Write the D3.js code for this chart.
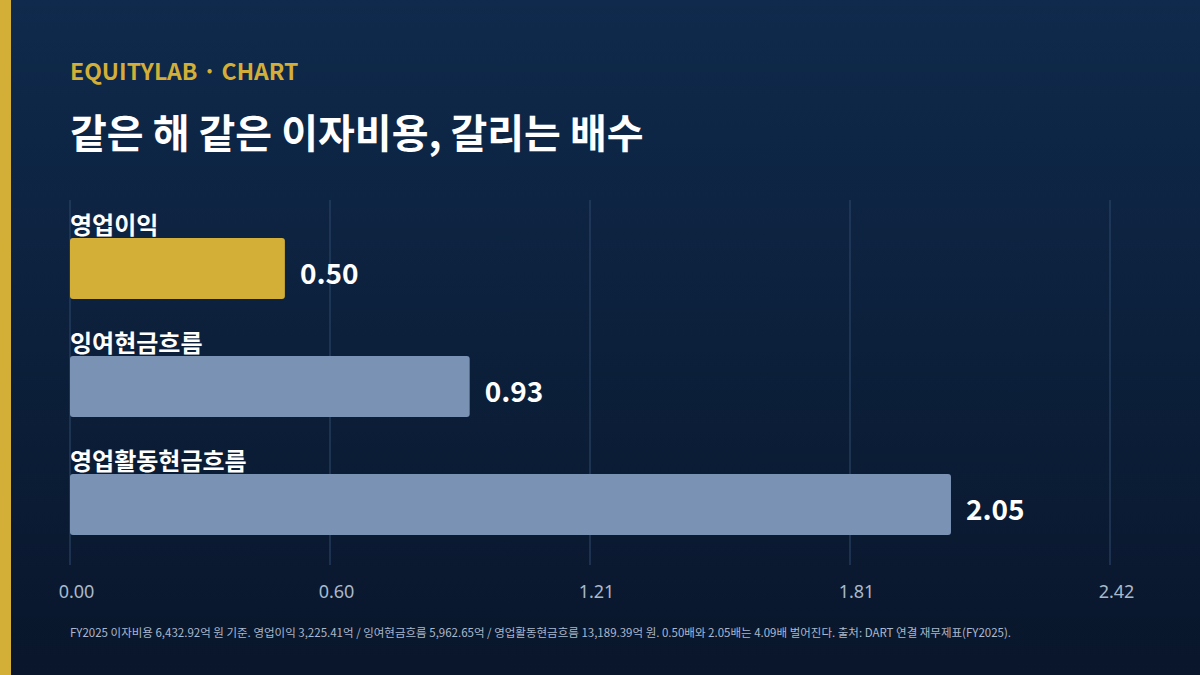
<!DOCTYPE html>
<html><head><meta charset="utf-8">
<script src="https://cdn.jsdelivr.net/npm/d3@7"></script>
<style>body{margin:0;background:#0b1a33}svg{display:block;font-family:"Noto Sans CJK KR","Noto Sans",sans-serif}</style>
</head><body><svg id="c" width="1200" height="675"></svg>
<script>
const categories = ["영업이익","잉여현금흐름","영업활동현금흐름"];
const values = [0.50, 0.93, 2.05];
const barColors = ["#d4af37","#7a93b5","#7a93b5"];
const tickValues = [0, 0.605, 1.21, 1.815, 2.42];
const xMax = 2.42;

const svg = d3.select("#c");
const defs = svg.append("defs");
const g = defs.append("linearGradient").attr("id","bg").attr("x1",0).attr("y1",0).attr("x2",0).attr("y2",1);
g.append("stop").attr("offset","0%").attr("stop-color","#0f2a4c");
g.append("stop").attr("offset","100%").attr("stop-color","#09162b");
svg.append("rect").attr("width",1200).attr("height",675).attr("fill","url(#bg)");
svg.append("rect").attr("width",11).attr("height",675).attr("fill","#d4af37");

svg.append("text").attr("x",70).attr("y",80).attr("fill","#d4af37").attr("font-size",23).attr("font-weight",700).text("EQUITYLAB · CHART");
svg.append("text").attr("x",70).attr("y",148).attr("fill","#ffffff").attr("font-size",40).attr("font-weight",700).text("같은 해 같은 이자비용, 갈리는 배수");

const x = d3.scaleLinear().domain([0,xMax]).range([70,1110]);
const y = d3.scaleBand().domain(categories).range([200,554]).paddingInner(0);

svg.append("g").selectAll("line").data(tickValues).join("line")
  .attr("x1",d=>x(d)).attr("x2",d=>x(d)).attr("y1",200).attr("y2",565)
  .attr("stroke","#2e4a6e").attr("stroke-width",1);

const axis = d3.axisBottom(x).tickValues(tickValues).tickFormat(d3.format(".2f")).tickSize(0).tickPadding(0);
const ag = svg.append("g").attr("transform","translate(0,598)").call(axis);
ag.select(".domain").remove();
ag.selectAll("text").attr("fill","#a9b8cc").attr("font-size",18).attr("dy","0").attr("font-family","'Noto Sans','Noto Sans CJK KR',sans-serif").attr("dx",6);

const rows = svg.append("g").selectAll("g").data(categories).join("g");
rows.append("rect").attr("x",x(0)).attr("y",d=>y(d)+38).attr("height",61)
  .attr("width",(d,i)=>x(values[i])-x(0)).attr("rx",3).attr("fill",(d,i)=>barColors[i]);
rows.append("text").attr("x",70).attr("y",d=>y(d)+34).attr("fill","#fff").attr("font-size",24).attr("font-weight",700).text(d=>d);
rows.append("text").attr("x",(d,i)=>x(values[i])+15).attr("y",d=>y(d)+84).attr("fill","#fff").attr("font-size",28).attr("font-weight",700)
  .text((d,i)=>d3.format(".2f")(values[i]));

svg.append("text").attr("x",70).attr("y",637).attr("fill","#a9b8cc").attr("font-size",11.5)
  .text("FY2025 이자비용 6,432.92억 원 기준. 영업이익 3,225.41억 / 잉여현금흐름 5,962.65억 / 영업활동현금흐름 13,189.39억 원. 0.50배와 2.05배는 4.09배 벌어진다. 출처: DART 연결 재무제표(FY2025).");
</script></body></html>
